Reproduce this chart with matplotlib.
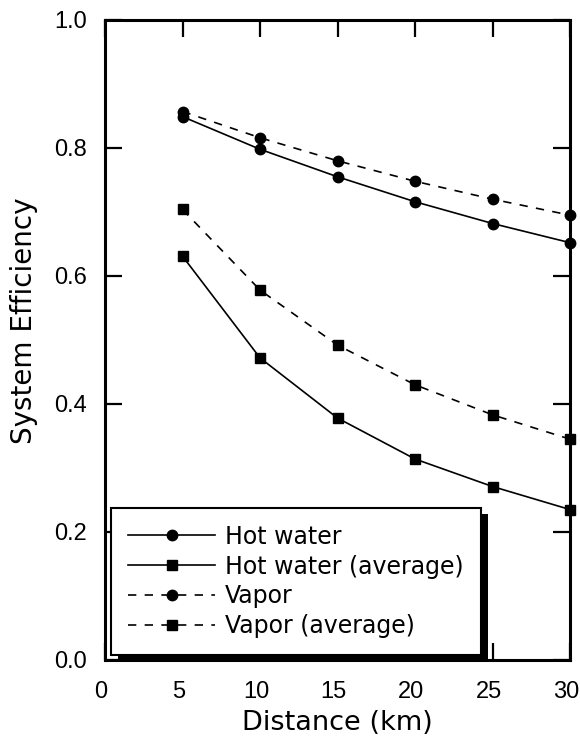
import matplotlib
matplotlib.use("Agg")
import matplotlib.pyplot as plt
from matplotlib.patches import Rectangle
from matplotlib.transforms import IdentityTransform, ScaledTranslation

# values
distance = [5, 10, 15, 20, 25, 30]
hot_water = [0.849, 0.798, 0.755, 0.716, 0.682, 0.652]
hot_water_avg = [0.631, 0.472, 0.378, 0.314, 0.271, 0.235]
vapor = [0.857, 0.816, 0.780, 0.748, 0.720, 0.695]
vapor_avg = [0.704, 0.578, 0.492, 0.430, 0.383, 0.345]

x_ticks = [0, 5, 10, 15, 20, 25, 30]
y_ticks = [0.0, 0.2, 0.4, 0.6, 0.8, 1.0]

fig = plt.figure(figsize=(5.8, 7.38), dpi=100)
ax = fig.add_axes([0.181, 0.1057, 0.802, 0.8672])

dash = (5, 5)
ax.plot(distance, hot_water, color="black", lw=1.2, marker="o", ms=7.5,
        label="Hot water", clip_on=False, zorder=3)
ax.plot(distance, hot_water_avg, color="black", lw=1.2, marker="s", ms=7.5,
        label="Hot water (average)", clip_on=False, zorder=3)
ax.plot(distance, vapor, color="black", lw=1.2, marker="o", ms=7.5, ls=(0, dash),
        label="Vapor", clip_on=False, zorder=3)
ax.plot(distance, vapor_avg, color="black", lw=1.2, marker="s", ms=7.5, ls=(0, dash),
        label="Vapor (average)", clip_on=False, zorder=3)

ax.set_xlim(0, 30)
ax.set_ylim(0, 1.0)
ax.set_xticks(x_ticks)
ax.set_yticks(y_ticks)
ax.set_xticklabels([str(t) for t in x_ticks], family="Liberation Sans", fontsize=17)
ax.set_yticklabels(["%.1f" % t for t in y_ticks], family="Liberation Sans", fontsize=17)
ax.tick_params(axis="x", direction="in", length=12, width=1.6, top=True, pad=15)
ax.tick_params(axis="y", direction="in", length=12, width=1.6, right=True, pad=13)
for s in ax.spines.values():
    s.set_linewidth(2.2)

# x labels sit a little left of their ticks in the original
shift = ScaledTranslation(-4 / 100, 0, fig.dpi_scale_trans)
for lab in ax.get_xticklabels():
    lab.set_transform(lab.get_transform() + shift)

ax.set_xlabel("Distance (km)", family="DejaVu Sans", fontsize=19.5, labelpad=5)
ax.set_ylabel("System Efficiency", family="DejaVu Sans", fontsize=20)
ax.yaxis.set_label_coords(-0.145, 0.53)

leg = ax.legend(loc="upper left", bbox_to_anchor=(0.013, 0.238), borderaxespad=0,
                prop={"family": "DejaVu Sans", "size": 17}, numpoints=1,
                handlelength=3.7, handletextpad=0.42, labelspacing=0.25,
                borderpad=0.72, fancybox=False, framealpha=1)
leg.get_frame().set_edgecolor("black")
leg.get_frame().set_linewidth(1.5)
leg.set_zorder(5)

# heavy drop shadow behind the legend box
fig.canvas.draw()
bb = leg.get_window_extent(fig.canvas.get_renderer())
shadow = Rectangle((bb.x0 + 7, bb.y0 - 6), bb.width, bb.height, facecolor="black",
                   edgecolor="none", transform=IdentityTransform(), clip_on=False, zorder=4.9)
ax.add_patch(shadow)

fig.savefig("out.png", dpi=100)
